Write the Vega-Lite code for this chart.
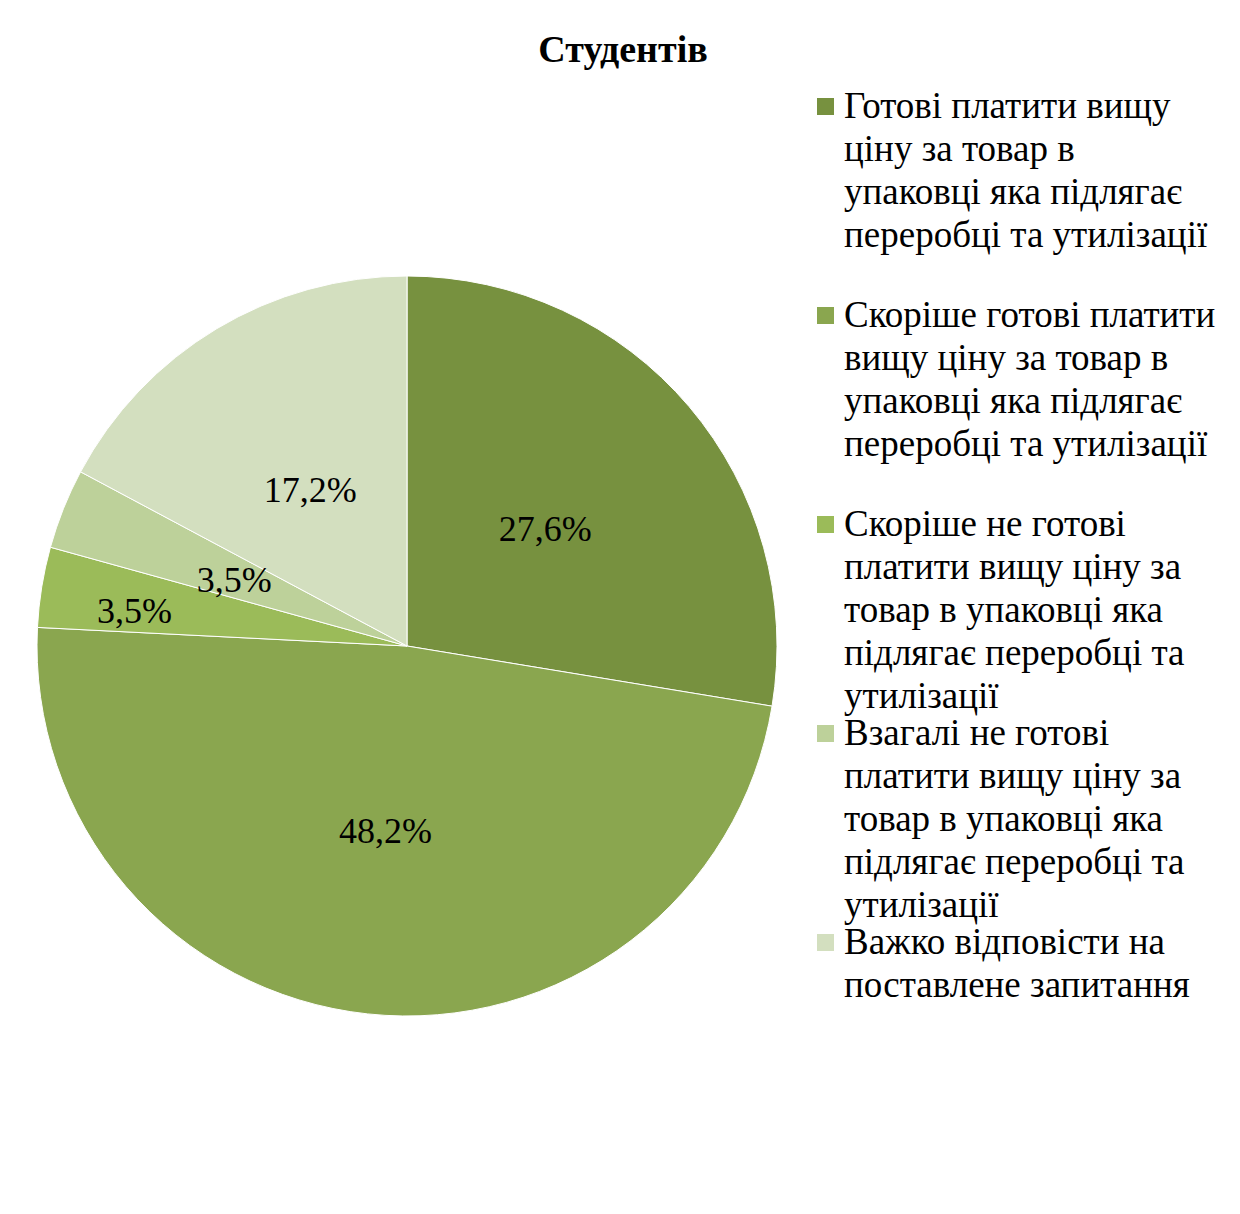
{
  "$schema": "https://vega.github.io/schema/vega-lite/v6.json",
  "autosize": {"type": "none"},
  "width": 740,
  "height": 740,
  "padding": {"left": 37, "top": 276, "right": 463, "bottom": 198},
  "background": "white",
  "config": {
    "style": {"guide-label": {"lineHeight": 43, "dy": -18}}
  },
  "title": {
    "text": "Студентів",
    "font": "Liberation Serif",
    "fontSize": 38,
    "fontWeight": "bold",
    "color": "black",
    "anchor": "middle",
    "dx": 216,
    "offset": 18
  },
  "data": {
    "values": [
      {"idx": 1, "category": "Готові платити вищу|ціну за товар в|упаковці яка підлягає|переробці та утилізації", "value": 27.6, "label": "27,6%"},
      {"idx": 2, "category": "Скоріше готові платити|вищу ціну за товар в|упаковці яка підлягає|переробці та утилізації", "value": 48.2, "label": "48,2%"},
      {"idx": 3, "category": "Скоріше не готові|платити вищу ціну за|товар в упаковці яка|підлягає переробці та|утилізації", "value": 3.5, "label": "3,5%"},
      {"idx": 4, "category": "Взагалі не готові|платити вищу ціну за|товар в упаковці яка|підлягає переробці та|утилізації", "value": 3.5, "label": "3,5%"},
      {"idx": 5, "category": "Важко відповісти на|поставлене запитання", "value": 17.2, "label": "17,2%"}
    ]
  },
  "encoding": {
    "theta": {"field": "value", "type": "quantitative", "stack": true},
    "order": {"field": "idx", "type": "quantitative"}
  },
  "layer": [
    {
      "mark": {"type": "arc", "outerRadius": 370, "stroke": "white", "strokeWidth": 1},
      "encoding": {
        "color": {
          "field": "category",
          "type": "nominal",
          "scale": {
            "domain": [
              "Готові платити вищу|ціну за товар в|упаковці яка підлягає|переробці та утилізації",
              "Скоріше готові платити|вищу ціну за товар в|упаковці яка підлягає|переробці та утилізації",
              "Скоріше не готові|платити вищу ціну за|товар в упаковці яка|підлягає переробці та|утилізації",
              "Взагалі не готові|платити вищу ціну за|товар в упаковці яка|підлягає переробці та|утилізації",
              "Важко відповісти на|поставлене запитання"
            ],
            "range": ["#77913f", "#8aa64f", "#9bbb59", "#bdd19a", "#d3dfbf"]
          },
          "legend": {
            "title": null,
            "orient": "none",
            "legendX": 770,
            "legendY": -188,
            "padding": 0,
            "gridAlign": "all",
            "rowPadding": -17.5,
            "symbolType": "square",
            "symbolSize": 289,
            "symbolStrokeWidth": 0,
            "symbolOpacity": 1,
            "labelFont": "Liberation Serif",
            "labelFontSize": 37,
            "labelColor": "black",
            "labelLimit": 0,
            "labelOffset": 0,
            "labelBaseline": "top",
            "labelExpr": "split(datum.label, '|')"
          }
        }
      }
    },
    {
      "mark": {
        "type": "text",
        "font": "Liberation Serif",
        "fontSize": 36,
        "color": "black",
        "align": "center",
        "baseline": "middle",
        "radius": {"expr": "datum.idx === 3 ? 274 : 184"},
        "xOffset": -2,
        "yOffset": {"expr": "datum.idx === 3 ? 10 : 3"}
      },
      "encoding": {
        "text": {"field": "label", "type": "nominal"}
      }
    }
  ]
}
